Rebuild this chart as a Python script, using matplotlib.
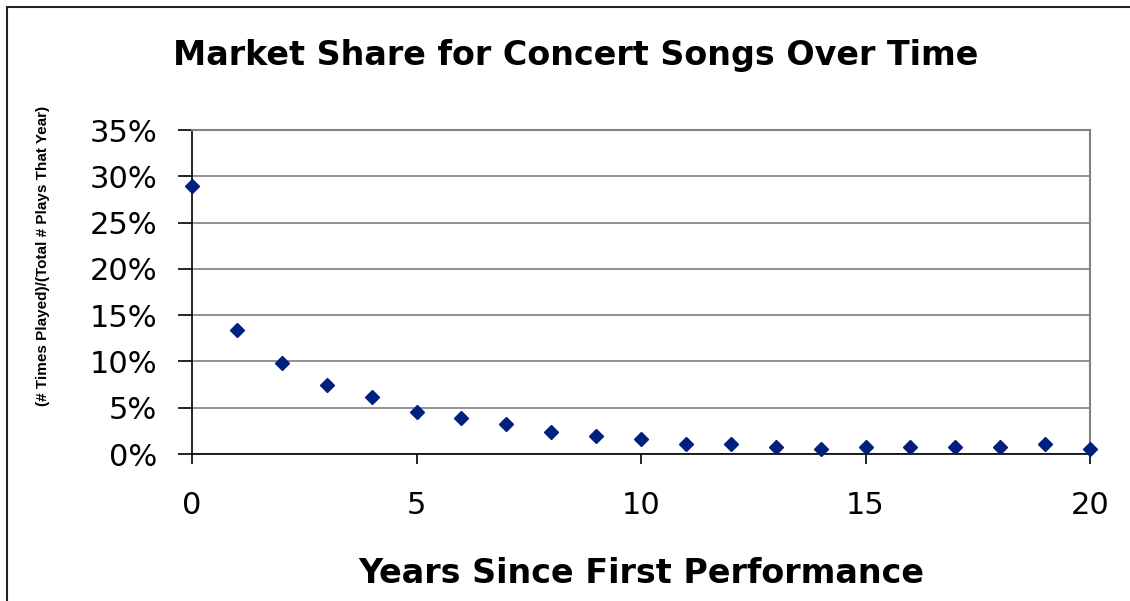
import matplotlib.pyplot as plt
from matplotlib.patches import Rectangle
from matplotlib.ticker import FuncFormatter

plt.rcParams['font.family'] = ['DejaVu Sans']

years = list(range(21))
share = [29.0, 13.4, 9.8, 7.5, 6.2, 4.5, 3.9, 3.2, 2.4, 1.9, 1.6,
         1.1, 1.1, 0.75, 0.57, 0.75, 0.75, 0.75, 0.75, 1.1, 0.57]
y_ticks = [0, 5, 10, 15, 20, 25, 30, 35]
x_ticks = [0, 5, 10, 15, 20]

title = 'Market Share for Concert Songs Over Time'
xlabel = 'Years Since First Performance'
ylabel = '(# Times Played)/(Total # Plays That Year)'

W, H = 1130, 601
fig = plt.figure(figsize=(W / 100, H / 100), dpi=100)
ax = fig.add_axes([192 / W, 1 - 454 / H, (1090 - 192) / W, (454 - 130) / H])

ax.plot(years, share, linestyle='none', marker='D', markersize=7.5,
        color='#002080', clip_on=False, zorder=5)

ax.set_xlim(0, 20)
ax.set_ylim(0, 35)
ax.set_xticks(x_ticks)
ax.set_yticks(y_ticks)
ax.yaxis.set_major_formatter(FuncFormatter(lambda v, p: f'{v:.0f}%'))
ax.grid(axis='y', color='#808080', linewidth=1.2)
ax.set_axisbelow(True)

for side in ['left', 'bottom']:
    ax.spines[side].set_color('black')
    ax.spines[side].set_linewidth(1.2)
for side in ['top', 'right']:
    ax.spines[side].set_color('#808080')
    ax.spines[side].set_linewidth(1.5)

ax.tick_params(axis='y', length=10, width=1.2, pad=15, labelsize=22)
ax.tick_params(axis='x', length=7, width=1.2, pad=20, labelsize=22)

fig.text(576 / W, 1 - 65 / H, title, ha='center', va='baseline',
         fontsize=24, fontweight='bold')
fig.text(641 / W, 1 - 583 / H, xlabel, ha='center', va='baseline',
         fontsize=24, fontweight='bold')
fig.text(43 / W, 1 - 256 / H, ylabel, ha='center', va='center', rotation=90,
         fontsize=11, fontweight='bold',
         family=['Liberation Sans Narrow', 'Liberation Sans', 'DejaVu Sans'])

# chart frame (only left/top edges visible in the original)
fig.patches.append(Rectangle((7 / W, -0.5), 2, 0.5 + 1 - 6.5 / H,
                             transform=fig.transFigure, fill=False,
                             edgecolor='#222222', linewidth=1.5))

fig.savefig('out.png', dpi=100)
